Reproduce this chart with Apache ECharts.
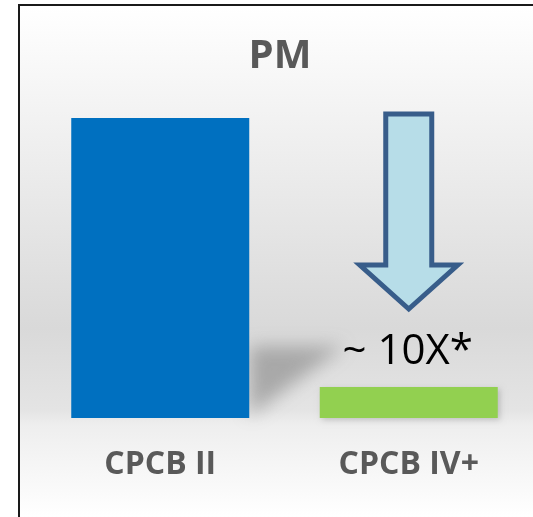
<!DOCTYPE html>
<html>
<head>
<meta charset="utf-8">
<style>
  html, body { margin: 0; padding: 0; background: #ffffff; }
  #chart { width: 533px; height: 517px; }
</style>
<script src="https://cdn.jsdelivr.net/npm/echarts@6/dist/echarts.min.js"></script>
</head>
<body>
<div id="chart"></div>
<script>
const categories = ['CPCB II', 'CPCB IV+'];
const pmValues = [100, 10.3];
const barColors = ['#0070c0', '#92d050'];
const titleText = 'PM';
const reductionText = '~ 10X*';

const chart = echarts.init(document.getElementById('chart'), null, { renderer: 'canvas' });

const option = {
  backgroundColor: '#ffffff',
  animation: false,
  grid: { left: 36, right: -3, top: 118, bottom: 99, containLabel: false },
  xAxis: {
    type: 'category',
    data: categories,
    axisLine: { show: false },
    axisTick: { show: false },
    axisLabel: {
      margin: 31,
      fontSize: 32,
      fontWeight: 'bold',
      fontFamily: 'Open Sans',
      color: '#595959'
    }
  },
  yAxis: {
    type: 'value',
    min: 0,
    max: 100,
    show: false,
    splitLine: { show: false }
  },
  series: [{
    type: 'bar',
    barWidth: 178,
    z: 3,
    data: pmValues.map((v, i) => ({
      value: v,
      itemStyle: i === 1
        ? { color: barColors[i], shadowColor: 'rgba(0,0,0,0.18)', shadowBlur: 6, shadowOffsetX: 2, shadowOffsetY: 2 }
        : { color: barColors[i] }
    }))
  }]
};
chart.setOption(option);

function drawDecor() {
  const p0top = chart.convertToPixel({ seriesIndex: 0 }, [0, pmValues[0]]);
  const p0bot = chart.convertToPixel({ seriesIndex: 0 }, [0, 0]);
  const p1 = chart.convertToPixel({ seriesIndex: 0 }, [1, pmValues[1]]);
  const half = 89;
  const rightEdge = p0top[0] + half;
  const baseY = p0bot[1];
  const cx = p1[0];

  chart.setOption({
    graphic: [
      {
        type: 'rect', z: 0, z2: 0, silent: true,
        shape: { x: 20, y: 6, width: 513, height: 511 },
        style: {
          fill: new echarts.graphic.LinearGradient(0, 0, 0, 1, [
            { offset: 0, color: '#ffffff' },
            { offset: 0.22, color: '#f2f2f2' },
            { offset: 0.63, color: '#d9d9d9' },
            { offset: 0.79, color: '#e4e4e4' },
            { offset: 0.82, color: '#eeeeee' },
            { offset: 1, color: '#ffffff' }
          ])
        }
      },
      {
        // perspective shadow of the tall bar (shape offscreen, only its shadow is drawn)
        type: 'polygon', z: 0, z2: 1, silent: true,
        shape: { points: [
          [rightEdge - 2000, baseY - 72],
          [rightEdge + 95 - 2000, baseY - 72],
          [rightEdge - 2000, baseY - 2]
        ] },
        style: {
          fill: 'rgba(160,160,160,1)',
          shadowColor: 'rgba(150,150,150,0.75)',
          shadowBlur: 18,
          shadowOffsetX: 2000,
          shadowOffsetY: 0
        }
      },
      {
        type: 'line', z: 10, silent: true,
        shape: { x1: 19, y1: 5, x2: 533, y2: 5 },
        style: { stroke: '#1a1a1a', lineWidth: 2 }
      },
      {
        type: 'line', z: 10, silent: true,
        shape: { x1: 19, y1: 4, x2: 19, y2: 517 },
        style: { stroke: '#1a1a1a', lineWidth: 2 }
      },
      {
        type: 'text', z: 10, silent: true,
        x: 280, y: 57,
        style: {
          text: titleText,
          fontSize: 40, fontWeight: 'bold', fontFamily: 'Open Sans',
          fill: '#595959', align: 'center', verticalAlign: 'middle'
        }
      },
      {
        type: 'polygon', z: 10, silent: true,
        shape: { points: [
          [cx - 23, 114], [cx + 23, 114], [cx + 23, 265], [cx + 49, 265],
          [cx, 309], [cx - 49, 265], [cx - 23, 265]
        ] },
        style: { fill: '#b7dde8', stroke: '#385d8a', lineWidth: 5, lineJoin: 'miter' }
      },
      {
        type: 'text', z: 10, silent: true,
        x: cx - 1, y: 352,
        style: {
          text: reductionText,
          fontSize: 42, fontFamily: 'Open Sans',
          fill: '#000000', align: 'center', verticalAlign: 'middle',
          shadowColor: 'rgba(0,0,0,0.25)', shadowBlur: 2, shadowOffsetX: 1, shadowOffsetY: 1
        }
      }
    ]
  });
}
drawDecor();
</script>
</body>
</html>
